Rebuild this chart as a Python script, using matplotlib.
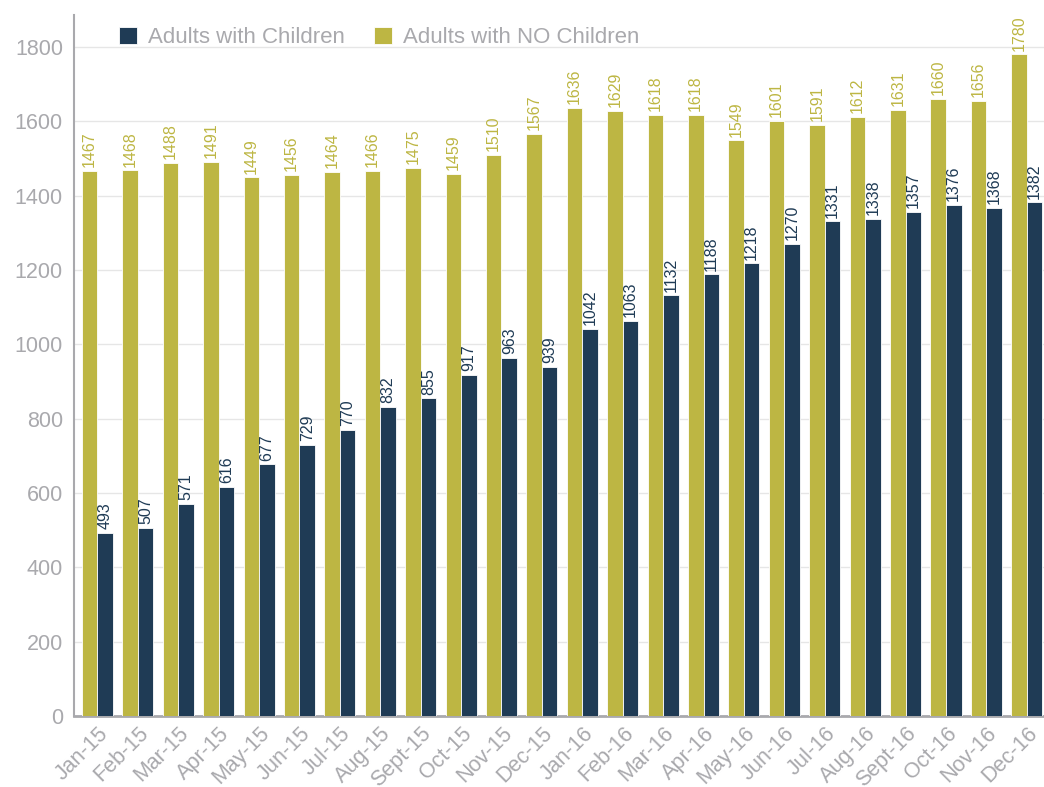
import matplotlib.pyplot as plt
import numpy as np

plt.rcParams['font.family'] = ['Liberation Sans', 'DejaVu Sans']

months = ['Jan-15', 'Feb-15', 'Mar-15', 'Apr-15', 'May-15', 'Jun-15', 'Jul-15',
          'Aug-15', 'Sept-15', 'Oct-15', 'Nov-15', 'Dec-15',
          'Jan-16', 'Feb-16', 'Mar-16', 'Apr-16', 'May-16', 'Jun-16', 'Jul-16',
          'Aug-16', 'Sept-16', 'Oct-16', 'Nov-16', 'Dec-16']
with_children = [493, 507, 571, 616, 677, 729, 770, 832, 855, 917, 963, 939,
                 1042, 1063, 1132, 1188, 1218, 1270, 1331, 1338, 1357, 1376, 1368, 1382]
no_children = [1467, 1468, 1488, 1491, 1449, 1456, 1464, 1466, 1475, 1459, 1510, 1567,
               1636, 1629, 1618, 1618, 1549, 1601, 1591, 1612, 1631, 1660, 1656, 1780]

NAVY = '#1f3b55'
OLIVE = '#bdb643'
GREY = '#a9a9ad'

fig = plt.figure(figsize=(10.44, 7.87), dpi=100)
ax = fig.add_axes([0.0709, 0.0902, 0.93, 0.8907])

x = np.arange(len(months))
w = 0.385
b1 = ax.bar(x - w / 2, no_children, w, color=OLIVE, edgecolor='white', linewidth=0.6,
            label='Adults with NO Children', zorder=3)
b2 = ax.bar(x + w / 2, with_children, w, color=NAVY, edgecolor='white', linewidth=0.6,
            label='Adults with Children', zorder=3)

# value labels sit just above each bar, turned on their side
for bars, vals, col in [(b1, no_children, OLIVE), (b2, with_children, NAVY)]:
    for r, v in zip(bars, vals):
        ax.text(r.get_x() + r.get_width() / 2, v + 10, str(v), rotation=90,
                ha='center', va='bottom', fontsize=11.5, color=col, clip_on=False)

ax.set_xlim(-0.58, 23.45)
ax.set_ylim(0, 1886)
ax.set_yticks(range(0, 1801, 200))
ax.set_xticks(x)
ax.set_xticklabels(months, rotation=45, ha='right', rotation_mode='anchor')
ax.tick_params(axis='both', colors=GREY, labelsize=15.5, length=0)
ax.tick_params(axis='y', pad=8)
ax.tick_params(axis='x', pad=5)
ax.grid(axis='y', color='#e6e6e6', linewidth=1, zorder=0)

for s in ['top', 'right']:
    ax.spines[s].set_visible(False)
ax.spines['left'].set_color(GREY)
ax.spines['left'].set_linewidth(1.5)
ax.spines['bottom'].set_color(GREY)
ax.spines['bottom'].set_linewidth(2)

handles = [b2, b1]
leg = ax.legend(handles, [h.get_label() for h in handles], loc='upper left',
                bbox_to_anchor=(0.026, 1.012), ncol=2, frameon=False, fontsize=16,
                handlelength=0.8, handleheight=0.8, handletextpad=0.5,
                columnspacing=1.3, labelcolor=GREY)

fig.savefig('out.png', dpi=100)
